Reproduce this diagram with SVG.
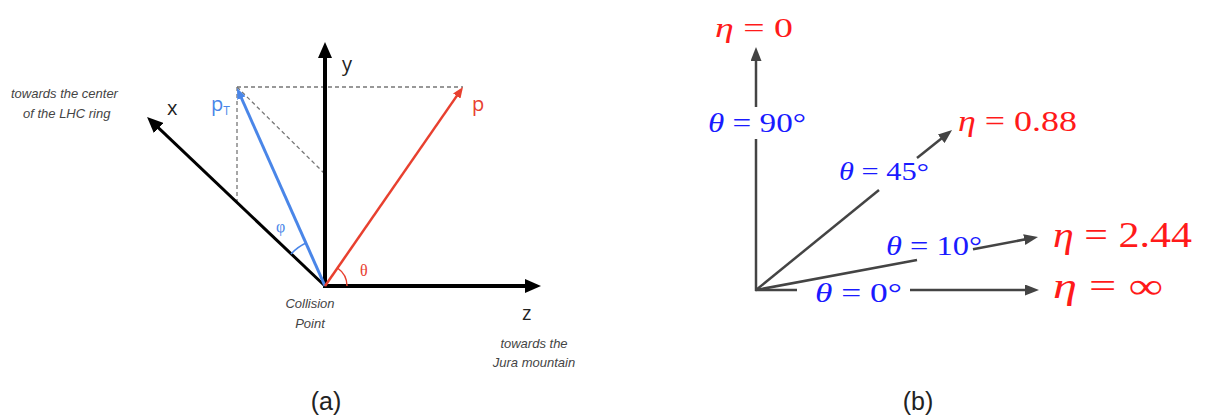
<svg xmlns="http://www.w3.org/2000/svg" width="1211" height="419" viewBox="0 0 1211 419">
<style>
.ax{stroke:#000;fill:none}
.dash{stroke:#777;stroke-width:1.3;stroke-dasharray:4 3;fill:none}
.g{stroke:#444;stroke-width:2.5;fill:none}
.lab{font-family:"Open Sans","Liberation Sans",sans-serif;fill:#222}
.note{font-family:"Liberation Sans",sans-serif;font-style:italic;font-size:13px;fill:#444}
.m{font-family:"Liberation Serif","DejaVu Serif",serif}
.red{fill:#ff1a1a}
.blue{fill:#1a1aff}
.cap{font-family:"Liberation Sans",sans-serif;font-size:25px;fill:#222;text-anchor:middle;font-weight:300}
</style>
<defs>
<marker id="ahK" viewBox="0 0 16 14" refX="10" refY="7" markerWidth="16" markerHeight="14" markerUnits="userSpaceOnUse" orient="auto"><path d="M0,0 L16,7 L0,14 z" fill="#000"/></marker>
<marker id="ahB" viewBox="0 0 11 9" refX="5" refY="4.5" markerWidth="11" markerHeight="9" markerUnits="userSpaceOnUse" orient="auto"><path d="M0,0 L11,4.5 L0,9 z" fill="#4a86e8"/></marker>
<marker id="ahR" viewBox="0 0 11 9" refX="5" refY="4.5" markerWidth="11" markerHeight="9" markerUnits="userSpaceOnUse" orient="auto"><path d="M0,0 L11,4.5 L0,9 z" fill="#e8402f"/></marker>
<marker id="ahG" viewBox="0 0 14 11" refX="8" refY="5.5" markerWidth="14" markerHeight="11" markerUnits="userSpaceOnUse" orient="auto"><path d="M0,0 L14,5.5 L0,11 z" fill="#444"/></marker>
</defs>

<!-- (a) -->
<g id="panel-a">
<g id="dashes">
<path class="dash" d="M237,87 H463"/>
<path class="dash" d="M237,87 V202"/>
<path class="dash" d="M237,87 L325,174"/>
</g>
<g id="connectors-a">
<path class="ax" stroke-width="4" d="M325,288 V48" marker-end="url(#ahK)"/>
<path class="ax" stroke-width="4" d="M323,286 H535" marker-end="url(#ahK)"/>
<path class="ax" stroke-width="3" d="M325,286 L151.4,121.1" marker-end="url(#ahK)"/>
<path stroke="#4a86e8" stroke-width="3" fill="none" d="M325,286 L239.4,93.5" marker-end="url(#ahB)"/>
<path stroke="#e8402f" stroke-width="2.5" fill="none" d="M325,286 L459.6,91.9" marker-end="url(#ahR)"/>
<path stroke="#4a86e8" stroke-width="1.5" fill="none" d="M291,254 A47,47 0 0 1 306,243"/>
<path stroke="#e8402f" stroke-width="1.5" fill="none" d="M347,286 A22,22 0 0 0 337.5,268"/>
</g>
<g id="label-y"><text class="lab" x="342" y="71" font-size="20">y</text></g>
<g id="label-x"><text class="lab" x="167" y="115" font-size="20">x</text></g>
<g id="label-z"><text class="lab" x="522" y="320" font-size="20">z</text></g>
<g id="label-pT"><text class="lab" x="211" y="111" font-size="20" style="fill:#4a86e8">p<tspan font-size="12" dy="4">T</tspan></text></g>
<g id="label-p"><text class="lab" x="472" y="111" font-size="20" style="fill:#e8402f">p</text></g>
<g id="label-phi"><text class="m" x="276" y="232" font-size="16" fill="#4a86e8">φ</text></g>
<g id="label-theta-a"><text class="m" x="360" y="276" font-size="16" fill="#e8402f">θ</text></g>
<g id="note-x"><text class="note" x="11" y="98">towards the center</text><text class="note" x="23" y="118">of the LHC ring</text></g>
<g id="note-cp"><text class="note" text-anchor="middle" x="310" y="308">Collision</text><text class="note" text-anchor="middle" x="310" y="328">Point</text></g>
<g id="note-z"><text class="note" text-anchor="middle" x="534" y="348">towards the</text><text class="note" text-anchor="middle" x="534" y="367">Jura mountain</text></g>
<text class="cap" x="326" y="410">(a)</text>
</g>

<!-- (b) -->
<g id="panel-b">
<g id="connectors-b">
<path class="g" d="M756,291 V139"/>
<path class="g" d="M756,107 V53" marker-end="url(#ahG)"/>
<path class="g" d="M756,290 L879,190"/>
<path class="g" d="M917,158 L947.4,133.8" marker-end="url(#ahG)"/>
<path class="g" d="M756,290 L917,260"/>
<path class="g" d="M973,249.2 L1032.1,238.1" marker-end="url(#ahG)"/>
<path class="g" d="M755,290 H797"/>
<path class="g" d="M910,290 H1033" marker-end="url(#ahG)"/>
</g>
<g id="eta0"><text class="m red" x="715" y="37" font-size="28" textLength="78" lengthAdjust="spacingAndGlyphs"><tspan font-style="italic">η</tspan> = 0</text></g>
<g id="eta088"><text class="m red" x="958" y="131" font-size="30" textLength="119" lengthAdjust="spacingAndGlyphs"><tspan font-style="italic">η</tspan> = 0.88</text></g>
<g id="eta244"><text class="m red" x="1053" y="247" font-size="36" textLength="139" lengthAdjust="spacingAndGlyphs"><tspan font-style="italic">η</tspan> = 2.44</text></g>
<g id="etainf"><text class="m red" x="1053" y="298" font-size="36" textLength="110" lengthAdjust="spacingAndGlyphs"><tspan font-style="italic">η</tspan> = ∞</text></g>
<g id="th90"><text class="m blue" x="708" y="132" font-size="28" textLength="98" lengthAdjust="spacingAndGlyphs"><tspan font-style="italic">θ</tspan> = 90°</text></g>
<g id="th45"><text class="m blue" x="839" y="180" font-size="25" textLength="90" lengthAdjust="spacingAndGlyphs"><tspan font-style="italic">θ</tspan> = 45°</text></g>
<g id="th10"><text class="m blue" x="886" y="255" font-size="27" textLength="96" lengthAdjust="spacingAndGlyphs"><tspan font-style="italic">θ</tspan> = 10°</text></g>
<g id="th0"><text class="m blue" x="815" y="302" font-size="28" textLength="87" lengthAdjust="spacingAndGlyphs"><tspan font-style="italic">θ</tspan> = 0°</text></g>
<text class="cap" x="918" y="410">(b)</text>
</g>
</svg>
